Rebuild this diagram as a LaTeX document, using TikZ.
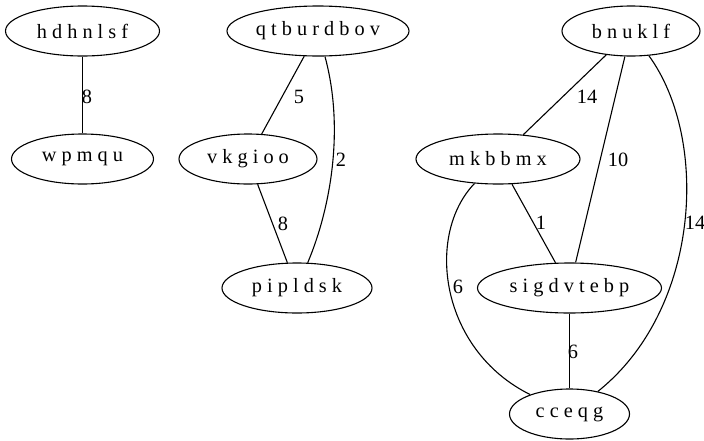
\documentclass[tikz,border=0pt]{standalone}
\usepackage{fontspec}
\setmainfont{Liberation Serif}
\usetikzlibrary{shapes.geometric}
\begin{document}
\begin{tikzpicture}[x=1pt,y=-1pt,
  vertex/.style={draw,ellipse,line width=1.1pt,inner sep=0pt,minimum height=50pt,
    font=\fontsize{20.3}{23}\selectfont},
  link/.style={line width=1.1pt},
  weight/.style={font=\fontsize{20.3}{23}\selectfont,inner sep=0pt}]
\useasboundingbox (0,0) rectangle (704,440);

% vertices
\node[vertex,minimum width=154pt] (h) at (82.5,31)  {h d h n l s f};
\node[vertex,minimum width=142pt] (w) at (82.5,159) {w p m q u};
\node[vertex,minimum width=182pt] (q) at (318,31) {q t b u r d b o v};
\node[vertex,minimum width=138pt] (v) at (248,159) {v k g i o o};
\node[vertex,minimum width=150pt] (p) at (297,288) {p i p l d s k};
\node[vertex,minimum width=138pt] (b) at (631,31) {b n u k l f};
\node[vertex,minimum width=164pt] (m) at (498,159) {m k b b m x};
\node[vertex,minimum width=184pt] (s) at (569.5,288) {s i g d v t e b p};
\node[vertex,minimum width=120pt] (c) at (569.5,414) {c c e q g};

% edges
\draw[link] (h) -- (w);
\draw[link] (q) -- (v);
\draw[link] (v) -- (p);
\draw[link] (q) .. controls (345,130) and (330,210) .. (p);
\draw[link] (b) -- (m);
\draw[link] (b) -- (s);
\draw[link] (m) -- (s);
\draw[link] (s) -- (c);
\draw[link] (m) .. controls (425,235) and (440,350) .. (c);
\draw[link] (b) .. controls (710,140) and (700,310) .. (c);

% edge weights
\node[weight] (l1) at (87,97)   {8};
\node[weight] (l2) at (299,97)  {5};
\node[weight] (l3) at (341,160) {2};
\node[weight] (l4) at (283,224) {8};
\node[weight] (l5) at (587,97)  {14};
\node[weight] (l6) at (618,160) {10};
\node[weight] (l7) at (695,223) {14};
\node[weight] (l8) at (541,223) {1};
\node[weight] (l9) at (458,287) {6};
\node[weight] (l10) at (573,352) {6};
\end{tikzpicture}
\end{document}
